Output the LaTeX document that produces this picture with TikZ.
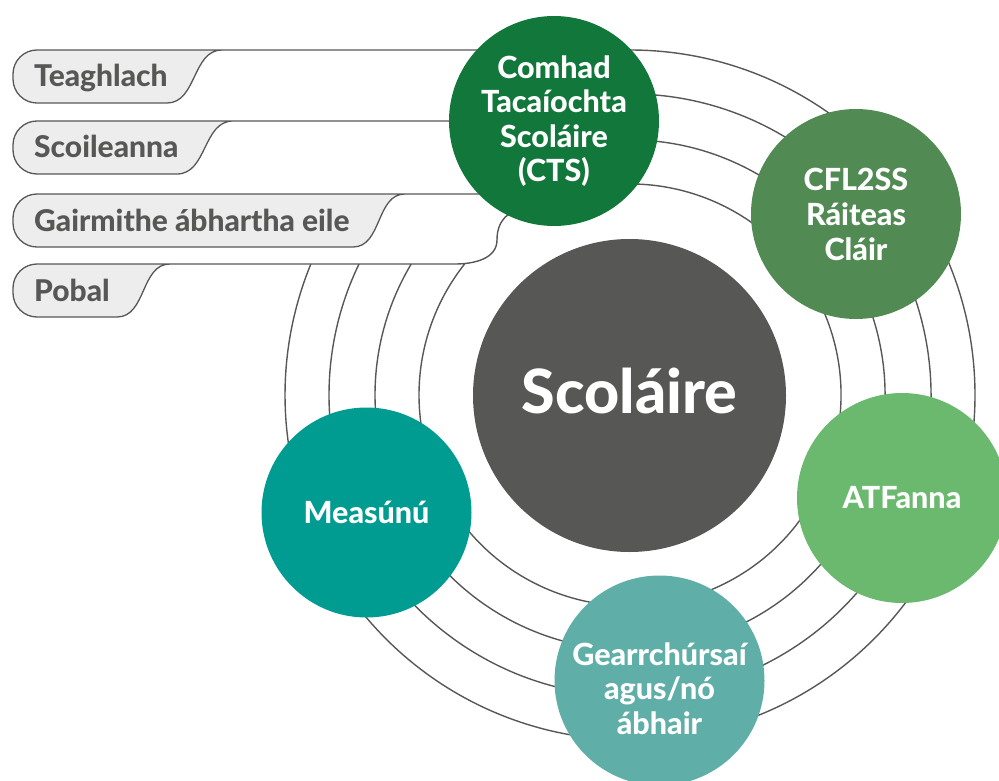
\documentclass[tikz,border=0pt]{standalone}
\usepackage{fontspec}
\IfFontExistsTF{Lato Heavy}
  {\setmainfont{Lato}[BoldFont=Lato Heavy]}
  {\setmainfont{Lato}[BoldFeatures={FakeBold=0.6}]}

\definecolor{ink}{HTML}{575756}
\definecolor{tabfill}{HTML}{EDEDED}
\definecolor{ctsgreen}{HTML}{12773A}
\definecolor{cflgreen}{HTML}{528A54}
\definecolor{atfgreen}{HTML}{6BB96F}
\definecolor{gearrteal}{HTML}{5FAFA8}
\definecolor{measteal}{HTML}{009B91}

\tikzset{
  ring/.style={draw=ink, line width=1.4pt},
  tab/.style={draw=ink, fill=tabfill, line width=1.3pt},
  tabtext/.style={anchor=base west, inner sep=0pt, text=ink, font=\fontsize{30}{34}\selectfont\bfseries},
  spottext/.style={text=white, align=center, font=\fontsize{30.5}{34.5}\selectfont\bfseries},
  spot/.style={circle, minimum size=210pt, inner sep=0pt, spottext}
}

\begin{document}
\begin{tikzpicture}[x=1pt, y=1pt]
  \useasboundingbox (0,0) rectangle (999,-781);
  \coordinate (hub) at (630,-395);

  % Rings round the pupil, each one fed from a tab on the left
  \draw[ring] (222,-50) -- (630,-50) arc[start angle=90, end angle=-202.3, radius=345];
  \draw[ring] (233,-121) -- (520,-121) -- ([shift={(100:301)}]hub)
    arc[start angle=100, end angle=-205.8, radius=301];
  \draw[ring] (405,-194) -- (520,-194) -- ([shift={(110:255)}]hub)
    arc[start angle=110, end angle=-210.9, radius=255];
  \draw[ring] (170,-264) -- (455,-264) to[out=0,in=-90] (497,-240) to[out=90,in=210] (512,-212)
    -- ([shift={(115:211)}]hub) arc[start angle=115, end angle=-218.4, radius=211];

  % Tabs
  \foreach \n/\t/\y/\xb/\xj in {teaghlach/Teaghlach/50/167/222, scoil/Scoileanna/121/177/233,
      gairm/Gairmithe ábhartha eile/194/353/405, pobal/Pobal/264/117/170} {
    \filldraw[tab] (\xj,-\y) -- (37,-\y) arc[start angle=90, end angle=180, radius=24]
      -- ++(0,-5) arc[start angle=180, end angle=270, radius=24]
      -- (\xb,{-\y-53}) to[out=0,in=180] (\xj,-\y) -- cycle;
    \node[tabtext] (\n) at (34,{-\y-37}) {\t};
  }

  % Circles
  \node[spot, fill=ink, minimum size=313pt, text depth=10pt, font=\fontsize{61}{61}\selectfont\bfseries]
    (pupil) at (629.5,-395.5) {Scoláire};
  \node[spot, fill=ctsgreen] (cts) at (554,-121) {Comhad\\Tacaíochta\\Scoláire\\(CTS)};
  \node[spot, fill=cflgreen, font=\fontsize{30.5}{35}\selectfont\bfseries] (cfl) at (856,-214) {CFL2SS\\Ráiteas\\Cláir};
  \node[spot, fill=atfgreen] (atf) at (902,-498) {ATFanna};
  \node[spot, fill=gearrteal, label={[spottext, yshift=-8pt]center:{Gearrchúrsaí\\agus/nó\\ábhair}}]
    (gearr) at (659.5,-680.5) {};
  \node[spot, fill=measteal] (meas) at (366.5,-512.5) {Measúnú};
\end{tikzpicture}
\end{document}
